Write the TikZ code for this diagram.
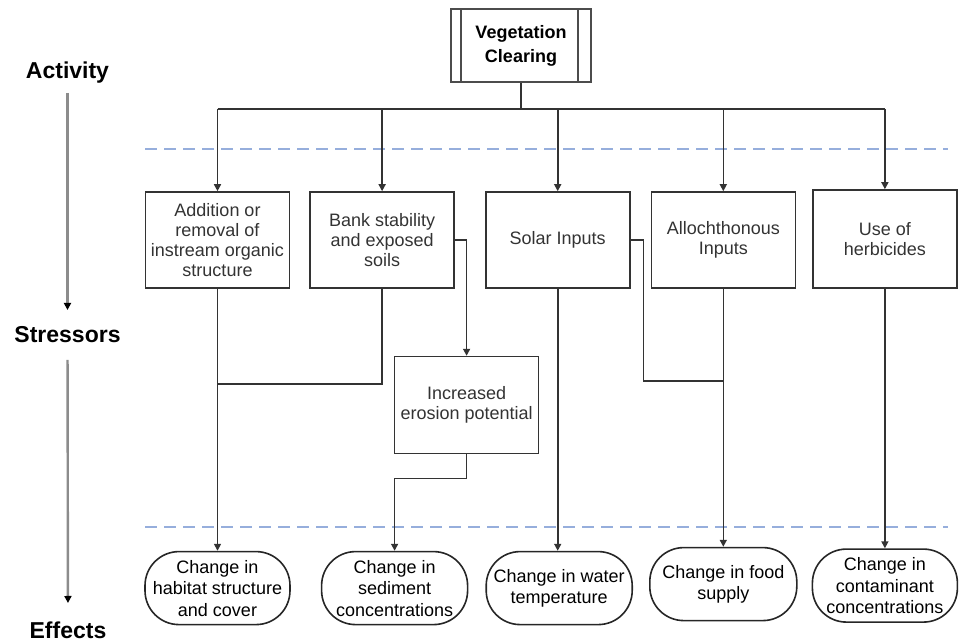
\documentclass[tikz,border=0pt]{standalone}
\usepackage{fontspec}
\setmainfont{Liberation Sans}
\usetikzlibrary{positioning,arrows.meta}
\definecolor{sepblue}{RGB}{150,174,220}

\begin{document}
\begin{tikzpicture}[x=1pt,y=1pt,
    stress/.style={draw=black!80,line width=1.6pt,minimum width=144pt,minimum height=96pt,inner sep=0pt,align=center,text=black!80,font=\fontsize{18}{20}\selectfont},
    effect/.style={draw=black!85,line width=1.6pt,rounded corners=34pt,minimum width=145pt,minimum height=73pt,inner sep=0pt,align=center,font=\fontsize{18}{21.5}\selectfont},
    level/.style={font=\bfseries\fontsize{23}{23}\selectfont},
    link/.style={draw=black!80,line width=1.6pt},
    flow/.style={link,-{Triangle[length=7pt,width=7pt]}},
    axis/.style={draw=black!45,line width=2.4pt,-{Triangle[color=black,length=7pt,width=7pt]}},
    sep/.style={draw=sepblue,line width=1.8pt,dash pattern=on 12pt off 7pt}] %
  \useasboundingbox (0,0) rectangle (959,642); %
  % activity
  \node[draw=black!70,line width=1.6pt,minimum width=140pt,minimum height=73pt,align=center,font=\bfseries\fontsize{18}{24}\selectfont] (veg) at (521,596.5) {Vegetation\\Clearing}; %
  \draw[black!70,line width=1.6pt] ([xshift=11pt]veg.north west) -- ([xshift=11pt]veg.south west); %
  \draw[black!70,line width=1.6pt] ([xshift=-14pt]veg.north east) -- ([xshift=-14pt]veg.south east); %
  % stressors
  \node[stress] (add) at (217.5,402) {Addition or\\removal of\\instream organic\\structure}; %
  \node[stress, right=19pt of add] (bank) {Bank stability\\and exposed\\soils}; %
  \node[stress, right=30pt of bank] (solar) {Solar Inputs}; %
  \node[stress, right=20pt of solar] (allo) {Allochthonous\\Inputs}; %
  \node[stress, right=16pt of allo,minimum height=98pt,yshift=1pt] (herb) {Use of\\herbicides}; %
  \node[stress, below=67pt of bank,xshift=84.5pt,minimum height=97pt] (ero) {Increased\\erosion potential}; %
  % effects
  \node[effect, below=262pt of add] (hab) {Change in\\habitat structure\\and cover}; %
  \node[effect, right=30pt of hab,minimum width=146pt] (sed) {Change in\\sediment\\concentrations}; %
  \node[effect, right=17pt of sed,minimum width=146pt] (temp) {Change in water\\temperature}; %
  \node[effect, right=16pt of temp,minimum width=147pt,yshift=4pt] (food) {Change in food\\supply}; %
  \node[effect, right=14pt of food,yshift=-1.5pt] (cont) {Change in\\contaminant\\concentrations}; %
  % levels on the left
  \node[level] (act) at (67.5,569.5) {Activity}; %
  \node[level] (str) at (67.5,307) {Stressors}; %
  \node[level] (eff) at (68,12) {Effects}; %
  \draw[axis,shorten <=20.5pt,shorten >=25pt] (act.center) -- (str.center); %
  \draw[axis,shorten <=25pt,shorten >=27pt] (str.center) -- (eff.center); %
  \draw[sep] (145,493) -- (948,493); %
  \draw[sep] (145,115) -- (948,115); %
  % connectors
  \draw[link] (veg.south) -- ++(0,-26) coordinate (bus); %
  \draw[link] (add.north |- bus) -- (herb.north |- bus); %
  \foreach \s in {add,bank,solar,allo,herb}
    \draw[flow] (\s.north |- bus) -- (\s.north);
  \draw[flow] (add.south) -- (hab.north); %
  \draw[link] (bank.south) |- ([yshift=-95pt]add.south); %
  \draw[flow] (bank.east) -| (ero.north); %
  \draw[flow] (ero.south) -- ++(0,-24) -| (sed.north); %
  \draw[flow] (solar.south) -- (solar.south |- temp.north); %
  \draw[link] (solar.east) -- ++(13,0) |- ([yshift=-92pt]allo.south); %
  \draw[flow] (allo.south) -- (allo.south |- food.north); %
  \draw[flow] (herb.south) -- (herb.south |- cont.north); %
\end{tikzpicture}
\end{document}
